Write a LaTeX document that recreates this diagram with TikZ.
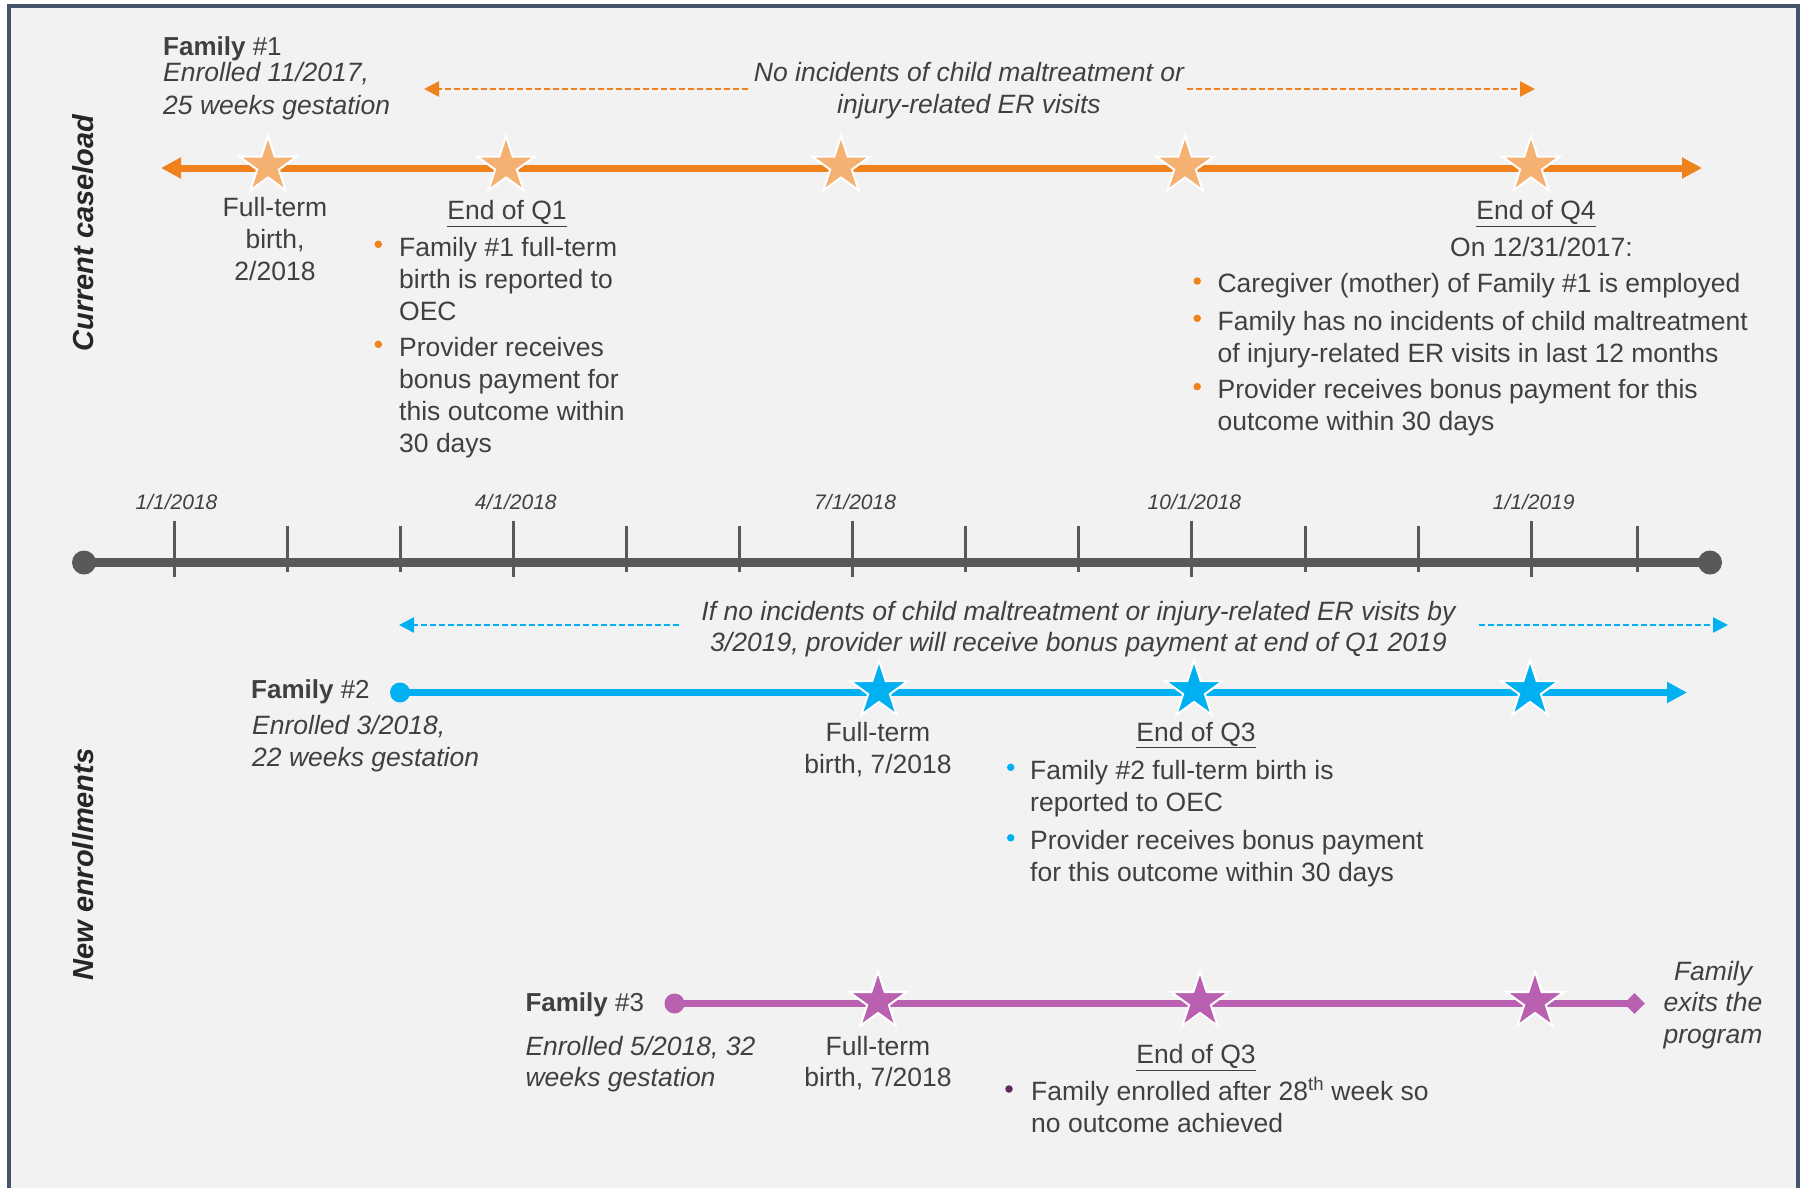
\documentclass[tikz,border=0pt]{standalone}
\usepackage{fontspec}
\setmainfont{Liberation Sans}
\usetikzlibrary{arrows.meta,shapes.geometric}

\definecolor{framecol}{HTML}{44546A}
\definecolor{panel}{HTML}{F2F2F2}
\definecolor{ink}{HTML}{404040}
\definecolor{labelink}{HTML}{262626}
\definecolor{orangeline}{HTML}{F0821E}
\definecolor{orangestar}{HTML}{F5B172}
\definecolor{blueline}{HTML}{00B0F0}
\definecolor{magline}{HTML}{B960B1}
\definecolor{plum}{HTML}{5E2A5E}
\definecolor{axisgray}{HTML}{595959}

\newcommand\setfs[2]{\fontsize{#1}{#2}\selectfont}

% multi-line nodes below are placed by the baseline of their last line
\tikzset{
  txt/.style={text=ink, inner sep=0pt, font=\setfs{26.5}{32.3}},
  itxt/.style={txt, font=\setfs{26.5}{32.3}\itshape},
  famlbl/.style={text=ink, inner sep=0pt, font=\setfs{26}{32}, anchor=base west},
  datelbl/.style={text=ink, inner sep=0pt, font=\setfs{21}{25}\itshape, anchor=base},
  sidelbl/.style={text=labelink, inner sep=0pt, rotate=90, font=\setfs{29}{34}\bfseries\itshape},
  milestone/.style={star, star points=5, star point ratio=2.618, minimum size=60pt,
    inner sep=0pt, draw=white, line width=2pt},
  ostar/.style={milestone, fill=orangestar},
  bstar/.style={milestone, fill=blueline},
  mstar/.style={milestone, fill=magline},
  bulletdot/.style={circle, inner sep=0pt, minimum size=7.5pt},
  famline/.style={line width=7pt},
  dasharrow/.style={line width=2.5pt, dash pattern=on 6pt off 3pt},
  majortick/.style={axisgray, line width=3pt},
}

\begin{document}
\begin{tikzpicture}[x=1pt, y=-1pt]
\useasboundingbox (0,0) rectangle (1805,1187);
\fill[white] (0,0) rectangle (1805,1187);
\filldraw[fill=panel, draw=framecol, line width=3.5pt] (9,6) rectangle (1798,1210);

% side headings
\node[sidelbl] (cur) at (83,233) {Current caseload};
\node[sidelbl] (new) at (83,864.5) {New enrollments};

% ---------------- Family 1 ----------------
\node[famlbl] (f1) at (163,55) {\textbf{Family} \#1};
\node[itxt, anchor=base west, align=left] (f1info) at (163,114) {Enrolled 11/2017,\\25 weeks gestation};

\coordinate (o-l) at (161,168);
\coordinate (o-r) at (1702,168);
\draw[famline, orangeline, {Triangle[length=20pt,width=20pt]}-{Triangle[length=20pt,width=20pt]}] (o-l) -- (o-r);
\node[ostar] (os1) at (268,166) {};
\node[ostar] (os2) at (506,166) {};
\node[ostar] (os3) at (841,166) {};
\node[ostar] (os4) at (1185,166) {};
\node[ostar] (os5) at (1531,166) {};

% no-incident window
\node[itxt, anchor=base, align=center, font=\setfs{26.5}{31.6}\itshape] (f1win) at (969,113.3)
  {No incidents of child maltreatment or\\injury-related ER visits};
\coordinate (ow-l) at (424,89);
\coordinate (ow-la) at (748,89);
\coordinate (ow-ra) at (1187,89);
\coordinate (ow-r) at (1535,89);
\draw[dasharrow, orangeline, -{Triangle[length=15pt,width=15pt]}] (ow-la) -- (ow-l);
\draw[dasharrow, orangeline, -{Triangle[length=15pt,width=15pt]}] (ow-ra) -- (ow-r);

\node[txt, anchor=base, align=center, font=\setfs{26.5}{31.7}] (f1birth) at (275,280.1) {Full-term\\birth,\\2/2018};

\node[txt, anchor=base] (q1) at (507,219.3) {\underline{End of Q1}};
\node[bulletdot, fill=orangeline] (q1a-dot) at (378.3,244.3) {};
\node[txt, anchor=base west, align=left] (q1a) at (399,320.6) {Family \#1 full-term\\birth is reported to\\OEC};
\node[bulletdot, fill=orangeline] (q1b-dot) at (378.3,344.3) {};
\node[txt, anchor=base west, align=left] (q1b) at (399,452.9) {Provider receives\\bonus payment for\\this outcome within\\30 days};

\node[txt, anchor=base] (q4) at (1536,219.3) {\underline{End of Q4}};
\node[txt, anchor=base] (q4on) at (1541.5,256) {On 12/31/2017:};
\node[bulletdot, fill=orangeline] (q4a-dot) at (1197.2,281) {};
\node[txt, anchor=base west, align=left] (q4a) at (1217.4,292.7) {Caregiver (mother) of Family \#1 is employed};
\node[bulletdot, fill=orangeline] (q4b-dot) at (1197.2,318.3) {};
\node[txt, anchor=base west, align=left] (q4b) at (1217.4,362.3) {Family has no incidents of child maltreatment\\of injury-related ER visits in last 12 months};
\node[bulletdot, fill=orangeline] (q4c-dot) at (1197.2,386.6) {};
\node[txt, anchor=base west, align=left] (q4c) at (1217.4,430.6) {Provider receives bonus payment for this\\outcome within 30 days};

% ---------------- calendar axis ----------------
\node[circle, fill=axisgray, inner sep=0pt, minimum size=24pt] (t-start) at (84,562.5) {};
\node[circle, fill=axisgray, inner sep=0pt, minimum size=24pt] (t-end) at (1710,562.5) {};
\draw[axisgray, line width=9pt] (t-start.center) -- (t-end.center);
\foreach \k in {0,...,12} {
  \pgfmathsetmacro\tx{174+113.1*\k}
  \pgfmathtruncatemacro\rem{mod(\k,3)}
  \ifnum\rem=0
    \draw[majortick] (\tx,521) -- (\tx,577);
  \else
    \draw[majortick] (\tx,526) -- (\tx,572);
  \fi
}
\draw[majortick] (1637,526) -- (1637,572);
\node[datelbl] (d1) at (176.5,509.3) {1/1/2018};
\node[datelbl] (d2) at (515.8,509.3) {4/1/2018};
\node[datelbl] (d3) at (855.1,509.3) {7/1/2018};
\node[datelbl] (d4) at (1194.4,509.3) {10/1/2018};
\node[datelbl] (d5) at (1533.7,509.3) {1/1/2019};

% ---------------- Family 2 ----------------
\node[itxt, anchor=base, align=center, font=\setfs{26.5}{31.5}\itshape] (f2win) at (1078.5,651.5)
  {If no incidents of child maltreatment or injury-related ER visits by\\3/2019, provider will receive bonus payment at end of Q1 2019};
\coordinate (bw-l) at (399,625);
\coordinate (bw-la) at (679,625);
\coordinate (bw-ra) at (1479,625);
\coordinate (bw-r) at (1728,625);
\draw[dasharrow, blueline, -{Triangle[length=15pt,width=15pt]}] (bw-la) -- (bw-l);
\draw[dasharrow, blueline, -{Triangle[length=15pt,width=15pt]}] (bw-ra) -- (bw-r);

\node[famlbl] (f2) at (251,698.6) {\textbf{Family} \#2};
\node[itxt, anchor=base west, align=left, font=\setfs{26.5}{32.5}\itshape] (f2info) at (252,766.5) {Enrolled 3/2018,\\22 weeks gestation};

\node[circle, fill=blueline, inner sep=0pt, minimum size=20pt] (b-start) at (400,692.5) {};
\coordinate (b-end) at (1687,692.5);
\draw[famline, blueline, -{Triangle[length=20pt,width=20pt]}] (b-start.center) -- (b-end);
\node[bstar] (bs1) at (879,690.5) {};
\node[bstar] (bs2) at (1194,690.5) {};
\node[bstar] (bs3) at (1530,690.5) {};

\node[txt, anchor=base, align=center, font=\setfs{26.5}{32.5}] (f2birth) at (878,773.5) {Full-term\\birth, 7/2018};
\node[txt, anchor=base] (q3b) at (1196,741) {\underline{End of Q3}};
\node[bulletdot, fill=blueline] (q3ba-dot) at (1010.7,767.3) {};
\node[txt, anchor=base west, align=left] (q3ba) at (1030,811.3) {Family \#2 full-term birth is\\reported to OEC};
\node[bulletdot, fill=blueline] (q3bb-dot) at (1010.7,837.8) {};
\node[txt, anchor=base west, align=left] (q3bb) at (1030,881.8) {Provider receives bonus payment\\for this outcome within 30 days};

% ---------------- Family 3 ----------------
\node[famlbl] (f3) at (525.3,1011.7) {\textbf{Family} \#3};
\node[itxt, anchor=base west, align=left, font=\setfs{26.5}{31.7}\itshape] (f3info) at (525.3,1086.7) {Enrolled 5/2018, 32\\weeks gestation};

\node[circle, fill=magline, inner sep=0pt, minimum size=20pt] (m-start) at (674.5,1003.5) {};
\node[diamond, fill=magline, inner sep=0pt, minimum size=21pt] (m-end) at (1634.5,1003.5) {};
\draw[famline, magline] (m-start.center) -- (m-end.center);
\node[mstar] (ms1) at (878,1001.5) {};
\node[mstar] (ms2) at (1200,1001.5) {};
\node[mstar] (ms3) at (1535,1001.5) {};

\node[itxt, anchor=base, align=center, font=\setfs{26.5}{31.5}\itshape] (f3exit) at (1713,1043) {Family\\exits the\\program};

\node[txt, anchor=base, align=center, font=\setfs{26.5}{31.7}] (f3birth) at (878,1086.7) {Full-term\\birth, 7/2018};
\node[txt, anchor=base] (q3c) at (1196,1063.3) {\underline{End of Q3}};
\node[bulletdot, fill=plum] (q3c-dot) at (1009,1089) {};
\node[txt, anchor=base west, align=left] (q3ca) at (1031,1132.3) {Family enrolled after 28\textsuperscript{th} week so\\no outcome achieved};

\end{tikzpicture}
\end{document}
